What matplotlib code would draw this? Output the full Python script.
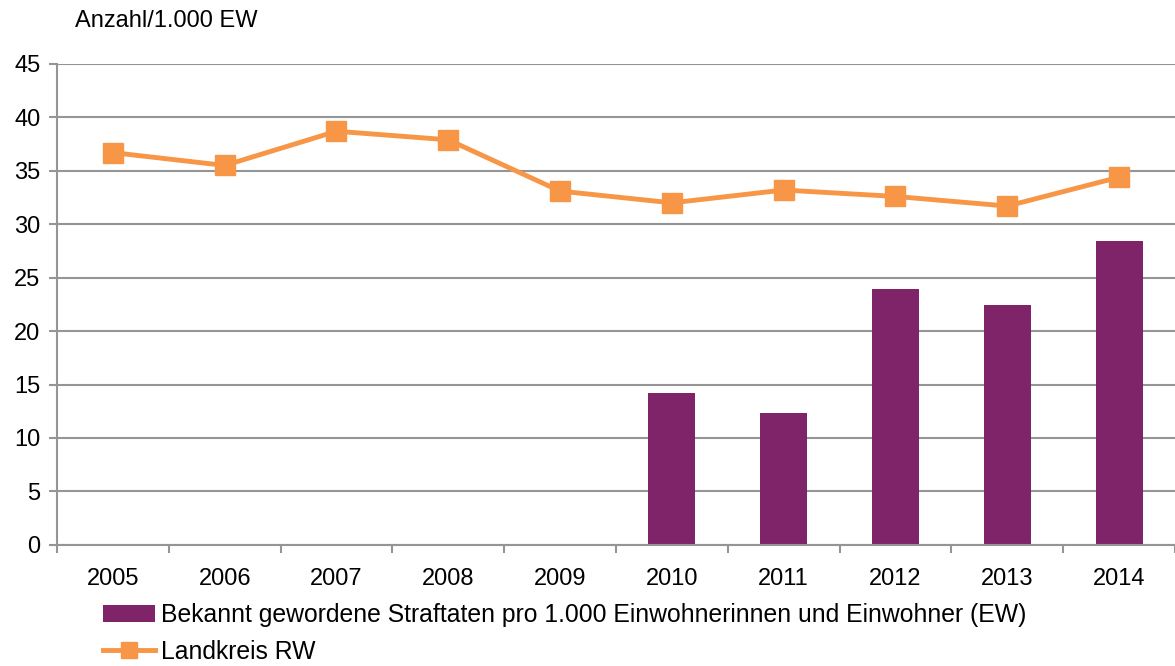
import numpy as np
import matplotlib
matplotlib.use('Agg')
import matplotlib.pyplot as plt
from matplotlib.patches import Patch
from matplotlib.lines import Line2D

plt.rcParams['font.family'] = ['Liberation Sans', 'DejaVu Sans']

# Data
years = ['2005', '2006', '2007', '2008', '2009', '2010', '2011', '2012', '2013', '2014']
straftaten = [np.nan, np.nan, np.nan, np.nan, np.nan, 14.2, 12.3, 23.9, 22.4, 28.4]
landkreis_rw = [36.7, 35.5, 38.7, 37.9, 33.1, 32.0, 33.2, 32.6, 31.7, 34.4]

bar_label = 'Bekannt gewordene Straftaten pro 1.000 Einwohnerinnen und Einwohner (EW)'
line_label = 'Landkreis RW'

purple = '#7F2469'
orange = '#F79646'
grid_c = '#959595'
fs = 17

fig = plt.figure(figsize=(11.75, 6.66), dpi=100)
ax = fig.add_axes([0.0485, 0.182, 0.9515, 0.722])

x = np.arange(len(years))
ax.bar(x, straftaten, width=0.42, color=purple, zorder=2)
ax.plot(x, landkreis_rw, color=orange, lw=3.5, marker='s', markersize=14.5,
        zorder=3)

ax.set_xlim(-0.5, len(years) - 0.5)
ax.set_ylim(0, 45)
ax.set_yticks(np.arange(0, 46, 5))
ax.yaxis.grid(True, color=grid_c, lw=1.5, zorder=0)
ax.set_axisbelow(True)

# x ticks at category boundaries, labels at centres
ax.set_xticks(np.arange(-0.5, len(years), 1.0))
ax.set_xticklabels([])
ax.set_xticks(x, minor=True)
ax.set_xticklabels(years, minor=True)
ax.tick_params(axis='x', which='major', length=6, color=grid_c, width=1.5)
ax.tick_params(axis='x', which='minor', length=0, pad=17, labelsize=fs)
ax.tick_params(axis='y', length=6, color=grid_c, width=1.5, labelsize=fs, pad=6)

for s in ['top', 'right']:
    ax.spines[s].set_visible(False)
for s in ['left', 'bottom']:
    ax.spines[s].set_color(grid_c)
    ax.spines[s].set_linewidth(1.5)

fig.text(0.064, 0.968, 'Anzahl/1.000 EW', fontsize=fs, ha='left', va='center')

handles = [Patch(facecolor=purple, label=bar_label),
           Line2D([0], [0], color=orange, lw=3.5, marker='s', markersize=12, label=line_label)]
fig.legend(handles=handles, loc='upper left', bbox_to_anchor=(0.088, 0.094),
           frameon=False, fontsize=17.8, handlelength=2.1, handletextpad=0.25,
           labelspacing=0.5, borderaxespad=0, borderpad=0)

fig.savefig('out.png', dpi=100)
